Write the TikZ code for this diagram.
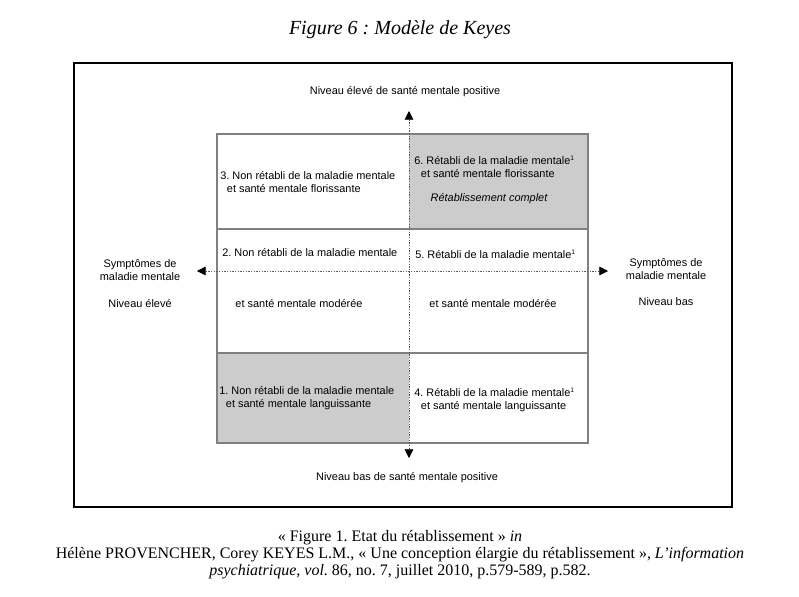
\documentclass[tikz,border=0pt]{standalone}
\usepackage{fontspec}
\setmainfont{Liberation Serif}
\setsansfont{Liberation Sans}
\usetikzlibrary{arrows.meta}
\frenchspacing

\begin{document}
\begin{tikzpicture}[x=0.75pt,y=-0.75pt,
  lbl/.style={font=\sffamily\fontsize{8.2}{10.2}\selectfont,inner sep=0pt},
  cell/.style={lbl,anchor=west,align=left},
  side/.style={lbl,align=center},
  grille/.style={draw=black!50,line width=0.8pt},
  axe/.style={draw=black!65,line width=0.5pt,dash pattern=on 1pt off 1pt,
    {Triangle[length=6.5pt,width=6.5pt,color=black]}-{Triangle[length=6.5pt,width=6.5pt,color=black]}}]
  \useasboundingbox (0,0) rectangle (799,596);
  \node[font=\itshape\fontsize{15}{18}\selectfont] (titre) at (400,30) {Figure 6 : Modèle de Keyes};
  \draw[line width=1pt] (74,63) rectangle (732,507);
  % cases grises
  \fill[black!20] (409,134) rectangle (588,229);
  \fill[black!20] (217,353) rectangle (409,443);
  \draw[grille] (217,134) rectangle (588,443);
  \draw[grille] (217,229) -- (588,229);
  \draw[grille] (217,353) -- (588,353);
  % axes
  \coordinate (haut) at (409,111);
  \coordinate (bas) at (409,458);
  \coordinate (gauche) at (197,271);
  \coordinate (droite) at (608,271);
  \draw[axe] (haut) -- (bas);
  \draw[axe] (gauche) -- (droite);
  \node[lbl] (eleve) at (405,92) {Niveau élevé de santé mentale positive};
  \node[lbl] (faible) at (407,478) {Niveau bas de santé mentale positive};
  \node[side] (symg) at (140,270) {Symptômes de\\maladie mentale};
  \node[lbl] (nivg) at (140,304) {Niveau élevé};
  \node[side] (symd) at (666,269) {Symptômes de\\maladie mentale};
  \node[lbl] (nivd) at (666,302) {Niveau bas};
  % quadrants
  \node[cell] (c3) at (220,182) {3. Non rétabli de la maladie mentale\\\hspace*{5pt}et santé mentale florissante};
  \node[cell] (c6) at (414,167) {6. Rétabli de la maladie mentale\textsuperscript{\fontsize{5}{5}\selectfont1}\\\hspace*{5pt}et santé mentale florissante};
  \node[lbl,font=\sffamily\itshape\fontsize{8.2}{10.2}\selectfont] (complet) at (489,199) {Rétablissement complet};
  \node[cell] (c2) at (222,253) {2. Non rétabli de la maladie mentale};
  \node[cell] (c5) at (415,254) {5. Rétabli de la maladie mentale\textsuperscript{\fontsize{5}{5}\selectfont1}};
  \node[lbl] (m2) at (299,304) {et santé mentale modérée};
  \node[lbl] (m5) at (493,304) {et santé mentale modérée};
  \node[cell] (c1) at (219,398) {1. Non rétabli de la maladie mentale\\\hspace*{5pt}et santé mentale languissante};
  \node[cell] (c4) at (414,400) {4. Rétabli de la maladie mentale\textsuperscript{\fontsize{5}{5}\selectfont1}\\\hspace*{5pt}et santé mentale languissante};
  % source
  \node[align=center,font=\fontsize{12}{12.75}\selectfont] (source) at (400,555)
    {«~Figure 1. Etat du rétablissement~» \textit{in}\\
     Hélène PROVENCHER, Corey KEYES L.M., «~Une conception élargie du rétablissement~», \textit{L'information}\\
     \textit{psychiatrique, vol.} 86, no. 7, juillet 2010, p.579-589, p.582.};
\end{tikzpicture}
\end{document}
